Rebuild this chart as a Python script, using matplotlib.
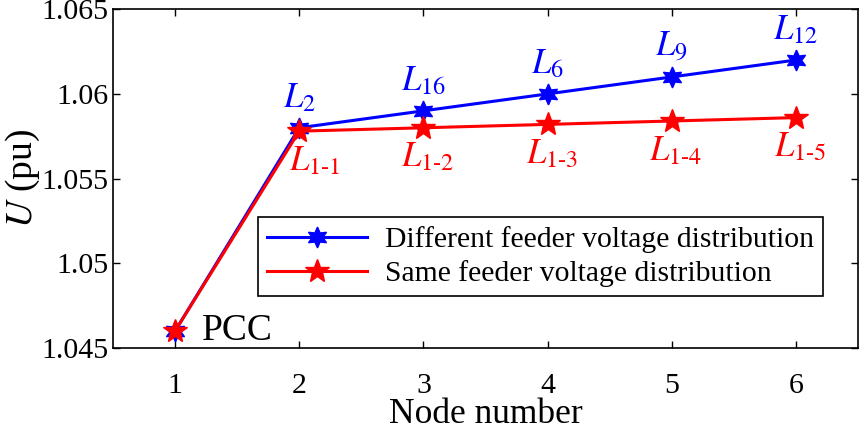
import numpy as np
import matplotlib
matplotlib.use("Agg")
import matplotlib.pyplot as plt

plt.rcParams['font.family'] = ['Liberation Serif', 'DejaVu Serif']
plt.rcParams['mathtext.fontset'] = 'stix'

# data
nodes = [1, 2, 3, 4, 5, 6]
u_diff = [1.046, 1.058, 1.059, 1.060, 1.061, 1.062]
u_same = [1.046, 1.0578, 1.058, 1.0582, 1.0584, 1.0586]
diff_labels = ['', r'$L_{2}$', r'$L_{16}$', r'$L_{6}$', r'$L_{9}$', r'$L_{12}$']
same_labels = ['', r'$L_{1\text{-}1}$', r'$L_{1\text{-}2}$', r'$L_{1\text{-}3}$',
               r'$L_{1\text{-}4}$', r'$L_{1\text{-}5}$']
yticks = [1.045, 1.05, 1.055, 1.06, 1.065]
ytick_labels = ['1.045', '1.05', '1.055', '1.06', '1.065']

fig = plt.figure(figsize=(8.65, 4.38), dpi=100)
ax = fig.add_axes([0.1306, 0.2055, 0.8614, 0.7735])

ax.plot(nodes, u_diff, color='#0000ff', linewidth=2.2, marker=(6, 1, 0),
        markersize=15, label='Different feeder voltage distribution')
ax.plot(nodes, u_same, color='#ff0000', linewidth=2.2, marker='*',
        markersize=18, label='Same feeder voltage distribution')

for x, y, s in zip(nodes, u_diff, diff_labels):
    if s:
        ax.annotate(s, (x, y), xytext=(0, 9), textcoords='offset points',
                    ha='center', va='bottom', color='#0000ff', fontsize=25)
for i, (x, y, s) in enumerate(zip(nodes, u_same, same_labels)):
    if s:
        dx = 11 if i == 1 else 3
        ax.annotate(s, (x, y), xytext=(dx, -10), textcoords='offset points',
                    ha='center', va='top', color='#ff0000', fontsize=25)

ax.annotate('PCC', (nodes[0], u_same[0]), xytext=(19, 0), textcoords='offset points',
            ha='left', va='center', color='black', fontsize=27)

ax.set_xlim(0.5, 6.5)
ax.set_ylim(1.045, 1.065)
ax.set_xticks(nodes)
ax.set_yticks(yticks)
ax.set_yticklabels(ytick_labels)
ax.tick_params(direction='in', top=True, right=True, length=5, width=1,
               labelsize=21.5)
ax.tick_params(axis='x', pad=18)
ax.tick_params(axis='y', pad=3)
for sp in ax.spines.values():
    sp.set_linewidth(1.2)

ax.set_xlabel('Node number', fontsize=25.5, labelpad=-1)
ax.set_ylabel(r'$U$ (pu)', fontsize=27, labelpad=0)

leg = ax.legend(loc='upper left', bbox_to_anchor=(0.1946, 0.386), borderaxespad=0,
                fontsize=21.3, fancybox=False, framealpha=1, edgecolor='black',
                handlelength=3.4, handletextpad=0.6, borderpad=0.3, labelspacing=0.25)
leg.get_frame().set_linewidth(1.2)

fig.savefig('out.png', dpi=100)
